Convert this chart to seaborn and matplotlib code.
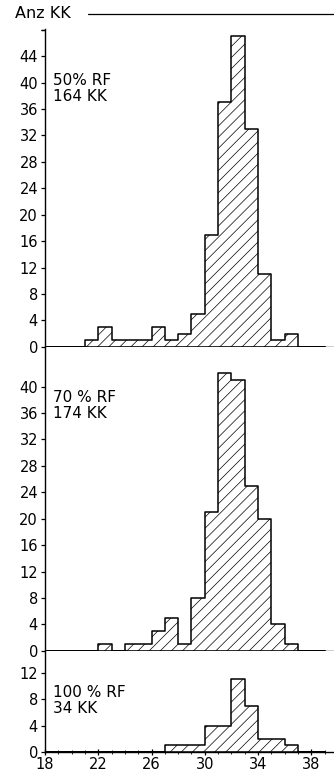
import numpy as np
import pandas as pd
import matplotlib
matplotlib.use("Agg")
import matplotlib.pyplot as plt
import seaborn as sns

# Korngrößenklassen (linke Klassengrenze) und Anzahl Körner je Klasse
klassen_50 = [21, 22, 23, 24, 25, 26, 27, 28, 29, 30, 31, 32, 33, 34, 35, 36]
anzahl_50 = [1, 3, 1, 1, 1, 3, 1, 2, 5, 17, 37, 47, 33, 11, 1, 2]

klassen_70 = [22, 24, 25, 26, 27, 28, 29, 30, 31, 32, 33, 34, 35, 36]
anzahl_70 = [1, 1, 1, 3, 5, 1, 8, 21, 42, 41, 25, 20, 4, 1]

klassen_100 = [27, 28, 29, 30, 31, 32, 33, 34, 35, 36]
anzahl_100 = [1, 1, 1, 4, 4, 11, 7, 2, 2, 1]

beschriftung = ["50% RF\n164 KK", "70 % RF\n174 KK", "100 % RF\n34 KK"]
y_ticks = [list(range(0, 49, 4)), list(range(0, 41, 4)), [0, 4, 8, 12]]
y_max = [48.1, 46.0, 15.3]
x_ticks = [18, 22, 26, 30, 34, 38]

sns.set_style("white")
plt.rcParams["font.family"] = ["DejaVu Sans"]
plt.rcParams["text.color"] = "black"
plt.rcParams["hatch.linewidth"] = 0.5

fig = plt.figure(figsize=(3.34, 7.8), dpi=100)
gs = fig.add_gridspec(3, 1, height_ratios=y_max, hspace=0,
                      left=45 / 334, right=1.0, top=1 - 29 / 780, bottom=1 - 752 / 780)
axes = [fig.add_subplot(gs[i]) for i in range(3)]

daten = [(klassen_50, anzahl_50), (klassen_70, anzahl_70), (klassen_100, anzahl_100)]
# Abstand der Beschriftung von der Oberkante des Feldes in Pixeln
text_abstand = [44, 43, 34]
px_hoehe = [317.7, 305.0, 100.3]

for i, (ax, (kl, an)) in enumerate(zip(axes, daten)):
    df = pd.DataFrame({"laenge": np.array(kl, dtype=float) + 0.5,
                       "anzahl": np.array(an, dtype=float)})
    sns.histplot(data=df, x="laenge", weights="anzahl", binwidth=1, binrange=(18, 39),
                 element="step", fill=True, ax=ax,
                 facecolor="white", edgecolor="black", linewidth=1.1,
                 hatch="///", alpha=1)
    ax.set_xlim(18, 39.7)
    ax.set_ylim(0, y_max[i])
    ax.set_ylabel("")
    ax.set_xlabel("")
    for s in ["top", "right"]:
        ax.spines[s].set_visible(False)
    for s in ["left", "bottom"]:
        ax.spines[s].set_linewidth(1.0)
        ax.spines[s].set_color("black")
    ticks = y_ticks[i]
    labels = [str(t) for t in ticks]
    if i == 0:
        ticks = ticks + [48]
        labels = labels + [""]
    ax.set_yticks(ticks)
    ax.set_yticklabels(labels)
    ax.tick_params(axis="y", direction="out", length=3, width=0.9, pad=2,
                   labelsize=10.5, colors="black", left=True)
    ax.text(0.028, 1 - text_abstand[i] / px_hoehe[i], beschriftung[i],
            transform=ax.transAxes, fontsize=11, va="top", ha="left",
            linespacing=1.1, color="black")
    if i < 2:
        ax.set_xticks([])
    else:
        ax.set_xticks(x_ticks)
        ax.set_xticks(range(18, 40), minor=True)
        ax.tick_params(axis="x", which="major", direction="inout", length=5, width=0.9,
                       labelsize=10.5, pad=1, colors="black", bottom=True)
        ax.tick_params(axis="x", which="minor", direction="inout", length=3, width=0.7,
                       bottom=True)

fig.text(15 / 334, 1 - 14 / 780, "Anz KK", fontsize=11.5, va="center", ha="left",
         color="black")
fig.add_artist(plt.Line2D([88 / 334, 1.0], [1 - 13.5 / 780] * 2, color="black", lw=0.9))

fig.savefig("out.png", dpi=100)
